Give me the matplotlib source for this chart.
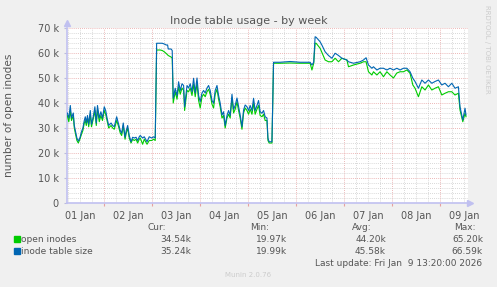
import matplotlib
matplotlib.use("Agg")
import matplotlib.pyplot as plt
from matplotlib.ticker import FixedLocator, FuncFormatter, NullFormatter

# hours since 02 Jan 00:00
hours = [-18.5, -17.75, -17, -16.4, -15.5, -15, -13.7, -13, -12.2, -11.4,
         -10.7, -10, -9.5, -9, -8.4, -7.8, -7, -6.4, -5.4, -4.7,
         -4, -3.4, -2.5, -1.7, -0.9, 0, 0.7, 1.4, 2.2, 3.4,
         4.2, 5, 6.2, 7, 8, 8.7, 9.5, 10.4, 11, 11.7,
         12.5, 13.4, 14.2, 15, 15.9, 16.7, 17.5, 18, 19.2, 20,
         21.4, 22.5, 23.7, 24.7, 25.5, 26.2, 28, 29, 30, 31,
         31.7, 32, 33.4, 34, 34.5, 35.5, 36.4, 37.2, 38, 38.9,
         39.7, 40.2, 41.4, 42.2, 43, 43.9, 44.7, 45.5, 46.4, 47.2,
         48, 48.9, 49.7, 50.5, 51.4, 52.2, 53, 53.9, 54.7, 55.5,
         56.4, 57.2, 58, 58.9, 59.7, 60.5, 61.4, 62.2, 63, 63.9,
         64.7, 65.5, 66.4, 67.2, 68, 68.9, 69.7, 70.5, 71.4, 72.2,
         73, 73.9, 74.7, 75.5, 76.4, 77.2, 78, 78.9, 79.7, 80.5,
         81.4, 81.9, 82.5, 83.9, 84.7, 88, 93, 98, 103, 103.9,
         104.8, 105.5, 106, 108, 109, 110.5, 112.2, 113.9, 115.5, 117.2,
         118.9, 121.4, 122.2, 124.7, 128, 129.7, 131, 132.2, 133.9, 134.7,
         136.4, 138, 139.7, 141.4, 143, 144.7, 146.4, 148, 149.7, 151.4,
         153, 154.4, 155.5, 157.2, 158.9, 160.5, 162.2, 163.9, 165.5, 167.2,
         168.9, 170.5, 172.2, 173.9, 175.5, 177.2, 178, 179.4, 180.5, 181]

# inode table size (thousands)
table_size = [36.0, 34.0, 39.0, 34.0, 36.0, 31.0, 26.0, 24.8, 26.0, 28.5,
              30.0, 33.0, 34.5, 32.0, 35.0, 31.5, 37.0, 31.5, 35.0, 38.5,
              32.0, 39.0, 34.0, 36.5, 34.0, 38.5, 37.0, 34.0, 31.0, 32.0,
              31.0, 30.5, 34.5, 32.0, 29.0, 27.9, 32.0, 26.3, 29.0, 31.0,
              27.0, 24.5, 26.3, 26.0, 26.3, 25.0, 26.5, 27.0, 26.0, 26.5,
              24.5, 26.5, 26.0, 26.5, 26.0, 63.9, 63.9, 63.9, 63.6, 63.2,
              63.2, 61.6, 61.6, 61.0, 41.9, 45.9, 42.9, 48.5, 45.0, 47.7,
              47.0, 38.5, 47.0, 46.0, 47.7, 44.5, 49.9, 44.0, 50.0, 43.0,
              40.5, 44.0, 45.0, 44.0, 46.0, 47.0, 45.0, 41.0, 39.9, 45.0,
              47.0, 43.0, 40.0, 35.2, 36.5, 31.0, 35.0, 37.0, 35.0, 43.5,
              37.5, 39.0, 42.0, 38.5, 35.2, 30.5, 37.2, 39.2, 38.5, 37.0,
              39.0, 37.0, 41.9, 37.0, 39.0, 41.0, 36.5, 35.9, 37.0, 34.5,
              34.0, 25.9, 24.5, 24.5, 56.3, 56.3, 56.6, 56.3, 56.3, 55.2,
              56.3, 66.5, 66.3, 64.5, 63.0, 60.5, 59.0, 57.9, 59.9, 59.0,
              57.9, 57.2, 56.5, 55.9, 56.5, 57.2, 58.1, 55.2, 53.9, 54.5,
              53.2, 53.9, 53.9, 53.2, 53.9, 53.2, 53.9, 53.2, 53.9, 53.9,
              52.5, 49.9, 48.6, 45.9, 49.2, 47.9, 49.2, 47.9, 48.6, 49.2,
              47.2, 47.9, 46.5, 47.9, 45.9, 46.5, 38.5, 33.2, 37.9, 35.2]

# open inodes (thousands)
open_inodes = [35.0, 32.5, 37.0, 33.0, 35.0, 30.0, 25.0, 24.0, 25.5, 27.5,
               29.0, 32.0, 33.0, 31.0, 34.0, 30.5, 35.5, 30.5, 34.0, 37.0,
               31.0, 37.5, 32.5, 35.0, 33.0, 37.0, 35.5, 33.0, 30.0, 31.0,
               30.0, 29.5, 33.0, 31.0, 28.0, 27.0, 31.0, 25.5, 28.0, 30.0,
               26.0, 24.0, 25.5, 25.0, 25.5, 24.0, 25.5, 26.0, 23.5, 25.5,
               23.5, 25.0, 25.0, 25.5, 25.0, 61.2, 61.2, 61.0, 60.5, 59.8,
               59.2, 59.0, 58.4, 58.0, 40.0, 44.5, 41.5, 46.5, 43.5, 46.0,
               45.0, 37.0, 45.0, 44.5, 46.0, 43.0, 47.5, 42.5, 48.0, 41.0,
               38.0, 42.5, 43.5, 42.5, 44.5, 45.5, 43.5, 39.5, 38.0, 43.5,
               45.5, 41.5, 38.5, 34.0, 35.0, 30.0, 34.0, 35.5, 34.0, 42.0,
               36.0, 37.5, 40.5, 37.0, 34.0, 29.5, 36.0, 38.0, 37.0, 35.5,
               37.5, 35.5, 40.0, 35.5, 37.5, 39.0, 35.0, 34.5, 35.5, 33.0,
               33.0, 25.0, 24.0, 24.0, 55.9, 55.9, 56.0, 55.9, 55.9, 53.2,
               55.9, 63.9, 63.9, 61.9, 60.0, 57.2, 56.5, 56.5, 57.9, 56.5,
               57.9, 57.2, 54.5, 55.2, 55.9, 56.5, 56.5, 52.5, 51.2, 52.5,
               51.2, 52.5, 50.5, 52.5, 51.2, 50.0, 52.0, 52.5, 52.5, 53.2,
               51.9, 47.2, 45.9, 42.5, 46.5, 45.2, 47.2, 45.2, 45.9, 46.5,
               43.2, 43.9, 44.5, 44.5, 43.2, 43.9, 37.2, 32.5, 35.9, 34.5]

day_labels = ["01 Jan", "02 Jan", "03 Jan", "04 Jan", "05 Jan",
              "06 Jan", "07 Jan", "08 Jan", "09 Jan"]

legend_names = ["open inodes", "inode table size"]
cur_vals = ["34.54k", "35.24k"]
min_vals = ["19.97k", "19.99k"]
avg_vals = ["44.20k", "45.58k"]
max_vals = ["65.20k", "66.59k"]

GREEN = "#00CC00"
BLUE = "#0066B3"
TXT = "#555555"
W, H = 497, 287

fig = plt.figure(figsize=(W / 100, H / 100), dpi=100, facecolor="#F0F0F0")
ax = fig.add_axes([67 / W, 1 - 203 / H, (468 - 67) / W, (203 - 28) / H])
ax.set_facecolor("white")

ax.plot(hours, [v * 1000 for v in open_inodes], color=GREEN, lw=0.8, zorder=3)
ax.plot(hours, [v * 1000 for v in table_size], color=BLUE, lw=0.8, zorder=4)

ax.set_xlim(-18.65, 182)
ax.set_ylim(0, 70000)

# grid
ax.yaxis.set_major_locator(FixedLocator(range(0, 70001, 10000)))
ax.yaxis.set_minor_locator(FixedLocator(range(0, 70001, 2000)))
ax.xaxis.set_major_locator(FixedLocator([d * 24 for d in range(0, 8)]))
ax.xaxis.set_minor_locator(FixedLocator([h for h in range(-18, 183, 6)]))
ax.grid(which="minor", color="#cccccc", ls=(0, (1, 1.5)), lw=0.6)
ax.grid(which="major", color="#e6a0a0", ls=(0, (1, 1.5)), lw=0.6)
ax.set_axisbelow(True)
ax.xaxis.set_major_formatter(NullFormatter())
ax.yaxis.set_major_formatter(FuncFormatter(lambda v, p: "0" if v == 0 else "%d k" % (v / 1000)))
ax.tick_params(axis="y", which="major", length=2, colors="#bbbbdd", labelcolor=TXT,
               labelsize=7, pad=4)
ax.tick_params(axis="x", which="major", length=2, colors="#e6a0a0")
ax.tick_params(which="minor", length=0)

# day labels at noon
for i, lab in enumerate(day_labels):
    ax.text(i * 24 - 12, -0.045, lab, transform=ax.get_xaxis_transform(),
            ha="center", va="top", fontsize=7, color=TXT)

for s in ["top", "right"]:
    ax.spines[s].set_visible(False)
for s in ["left", "bottom"]:
    ax.spines[s].set_color("#c0c0f0")
    ax.spines[s].set_linewidth(1.2)
ax.plot([0], [1.03], marker="^", ms=5, color="#c0c0f0", transform=ax.transAxes,
        clip_on=False)
ax.plot([1.005], [0], marker=">", ms=5, color="#c0c0f0", transform=ax.transAxes,
        clip_on=False)

fig.text(0.5, 1 - 21 / H, "Inode table usage - by week", ha="center", va="center",
         fontsize=8, color=TXT)
fig.text(9 / W, 1 - 115 / H, "number of open inodes", rotation=90, ha="center",
         va="center", fontsize=7.6, color=TXT)
fig.text(487 / W, 1 - 5 / H, "RRDTOOL / TOBI OETIKER", rotation=270, ha="center",
         va="top", fontsize=5, color="#cccccc")

# legend block
fs = 6.5
fig.text(166 / W, 1 - 227 / H, "Cur:", ha="right", va="center", fontsize=fs, color=TXT)
fig.text(269 / W, 1 - 227 / H, "Min:", ha="right", va="center", fontsize=fs, color=TXT)
fig.text(372 / W, 1 - 227 / H, "Avg:", ha="right", va="center", fontsize=fs, color=TXT)
fig.text(476 / W, 1 - 227 / H, "Max:", ha="right", va="center", fontsize=fs, color=TXT)
for i, (name, col) in enumerate(zip(legend_names, [GREEN, BLUE])):
    y = 1 - (239 + 12 * i) / H
    fig.patches.append(plt.Rectangle((14 / W, y - 3 / H), 6 / W, 6 / H,
                                     transform=fig.transFigure, color=col))
    fig.text(21 / W, y, name, ha="left", va="center", fontsize=fs, color=TXT)
    fig.text(191 / W, y, cur_vals[i], ha="right", va="center", fontsize=fs, color=TXT)
    fig.text(287 / W, y, min_vals[i], ha="right", va="center", fontsize=fs, color=TXT)
    fig.text(386 / W, y, avg_vals[i], ha="right", va="center", fontsize=fs, color=TXT)
    fig.text(483 / W, y, max_vals[i], ha="right", va="center", fontsize=fs, color=TXT)

fig.text(482 / W, 1 - 263 / H, "Last update: Fri Jan  9 13:20:00 2026", ha="right",
         va="center", fontsize=fs, color=TXT)
fig.text(0.5, 1 - 275 / H, "Munin 2.0.76", ha="center", va="center", fontsize=5,
         color="#cccccc")

fig.savefig("out.png", dpi=100, facecolor=fig.get_facecolor())
